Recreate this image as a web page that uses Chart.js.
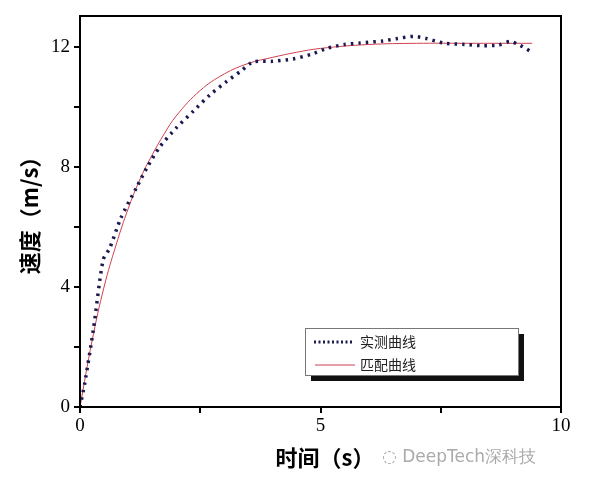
<!DOCTYPE html>
<html><head><meta charset="utf-8">
<script src="https://cdn.jsdelivr.net/npm/chart.js@4/dist/chart.umd.min.js"></script>
<style>html,body{margin:0;padding:0;background:#fff}</style>
</head><body>
<canvas id="c" width="592" height="487"></canvas>
<script>
const measuredT = [0,0.1,0.28,0.48,0.62,0.85,1.18,1.4,1.66,2.0,2.35,2.7,3.05,3.35,3.6,4.0,4.43,4.8,5.13,5.5,5.82,6.3,6.6,6.93,7.2,7.55,8.0,8.38,8.7,8.94,9.15,9.42];
const measuredV = [0,0.8,2.6,4.9,5.3,6.3,7.33,8.0,8.67,9.3,9.85,10.4,10.85,11.2,11.5,11.52,11.6,11.75,11.95,12.08,12.13,12.2,12.28,12.35,12.28,12.13,12.08,12.04,12.06,12.18,12.05,11.8];
const fitT = [0,0.25,0.5,0.75,1,1.25,1.5,1.75,2,2.5,3,3.5,4,4.5,5,6,7,8,9,9.4];
const fitV = [0,2.2,4.0,5.4,6.6,7.6,8.4,9.1,9.7,10.55,11.1,11.45,11.65,11.82,11.95,12.08,12.12,12.12,12.12,12.12];
const seriesNames = ['实测曲线','匹配曲线'];
const cjk = '"Noto Sans CJK SC", sans-serif';

const frame = {
  id:'frame',
  afterDraw(ch){
    const {ctx, chartArea:a} = ch;
    ctx.save();
    ctx.strokeStyle='#000'; ctx.lineWidth=2;
    ctx.strokeRect(a.left,a.top,a.right-a.left,a.bottom-a.top);
    const x=305,y=328,w=213,h=47;
    ctx.fillStyle='#111'; ctx.fillRect(x+6,y+6,w,h);
    ctx.fillStyle='#fff'; ctx.fillRect(x,y,w,h);
    ctx.strokeStyle='#777'; ctx.lineWidth=1; ctx.strokeRect(x+0.5,y+0.5,w,h);
    ctx.strokeStyle='#1a1a50'; ctx.lineWidth=3; ctx.setLineDash([2,2.5]);
    ctx.beginPath(); ctx.moveTo(x+9,y+14); ctx.lineTo(x+48,y+14); ctx.stroke();
    ctx.setLineDash([]);
    ctx.strokeStyle='#d04050'; ctx.lineWidth=1;
    ctx.beginPath(); ctx.moveTo(x+10,y+37); ctx.lineTo(x+50,y+37); ctx.stroke();
    ctx.fillStyle='#222'; ctx.font='14px '+cjk; ctx.textBaseline='middle';
    ctx.fillText(seriesNames[0],x+55,y+14);
    ctx.fillText(seriesNames[1],x+55,y+37);
    ctx.fillStyle='#000'; ctx.font='bold 22px '+cjk;
    ctx.textAlign='center';
    ctx.fillText('时间（s）',325,458);
    ctx.save(); ctx.translate(30,210); ctx.rotate(-Math.PI/2);
    ctx.fillText('速度（m/s）',0,0); ctx.restore();
    ctx.fillStyle='#aaa'; ctx.font='17px "DejaVu Sans", sans-serif'; ctx.textAlign='left';
    ctx.fillText('◌ DeepTech深科技',382,458);
    ctx.restore();
  }
};

new Chart(document.getElementById('c'), {
  type:'line',
  data:{datasets:[
    {label:seriesNames[0], data:measuredT.map((t,i)=>({x:t,y:measuredV[i]})), borderColor:'#1a1a50', borderWidth:3.5, borderDash:[2.5,5], pointRadius:0, tension:0.25, fill:false},
    {label:seriesNames[1], data:fitT.map((t,i)=>({x:t,y:fitV[i]})), borderColor:'#d04050', borderWidth:1, pointRadius:0, tension:0.4, fill:false}
  ]},
  options:{
    responsive:false, animation:false,
    layout:{padding:{top:16,right:31,left:0,bottom:0}},
    plugins:{legend:{display:false},tooltip:{enabled:false}},
    scales:{
      x:{type:'linear',min:0,max:10,
        afterFit(s){s.height=80;},
        ticks:{stepSize:2.5,maxRotation:0,color:'#000',font:{family:'"Liberation Serif", serif',size:19},padding:2,
          callback:v=>(v%5===0?String(v):'')},
        grid:{drawOnChartArea:false,drawTicks:true,tickLength:6,color:'#000',lineWidth:2},
        border:{color:'#000',width:2}},
      y:{min:0,max:13.03,
        afterFit(s){s.width=80;},
        afterBuildTicks(s){s.ticks=[0,2,4,6,8,10,12].map(v=>({value:v}));},
        ticks:{color:'#000',font:{family:'"Liberation Serif", serif',size:19},padding:4,
          callback:v=>(v%4===0?String(v):'')},
        grid:{drawOnChartArea:false,drawTicks:true,tickLength:6,color:'#000',lineWidth:2},
        border:{color:'#000',width:2}}
    }
  },
  plugins:[frame]
});
</script>
</body></html>
